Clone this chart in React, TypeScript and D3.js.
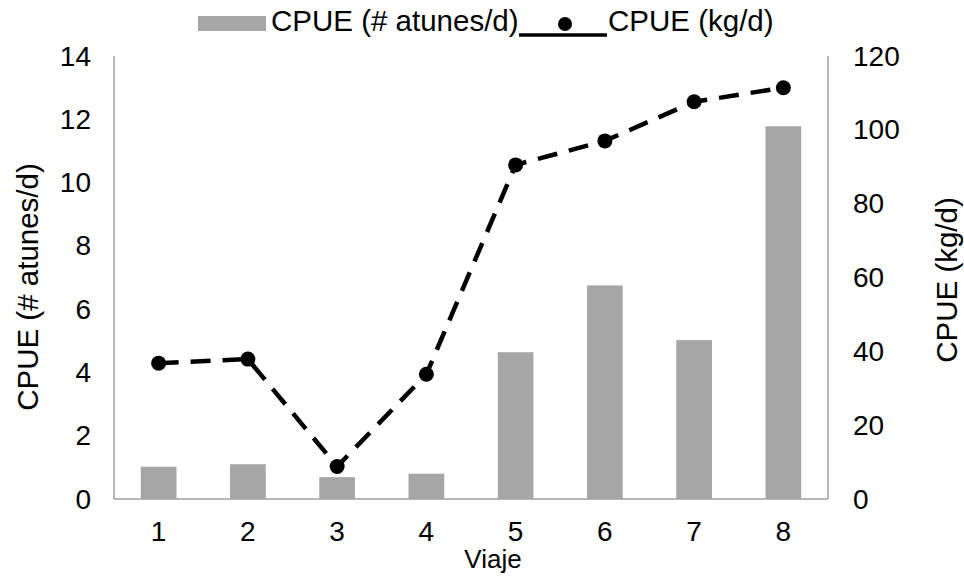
import React from "react";
import * as d3 from "d3";

// Trips and catch-per-unit-effort values
const trips = ["1", "2", "3", "4", "5", "6", "7", "8"];
const cpueTunas = [1.02, 1.1, 0.69, 0.8, 4.64, 6.75, 5.02, 11.78];
const cpueKg = [36.8, 37.9, 8.8, 33.8, 90.5, 97.0, 107.6, 111.4];
const leftTicks = [0, 2, 4, 6, 8, 10, 12, 14];
const rightTicks = [0, 20, 40, 60, 80, 100, 120];

const W = 964;
const H = 577;
const plot = { left: 114, right: 828, top: 56, bottom: 499 };
const FONT = "'Liberation Sans', Arial, sans-serif";
const BAR = "#a6a6a6";
const AXIS = "#a0a0a0";

export default function App() {
  const x = d3
    .scaleBand<string>()
    .domain(trips)
    .range([plot.left, plot.right])
    .paddingInner(0.6)
    .paddingOuter(0.3);
  const yL = d3.scaleLinear().domain([0, 14]).range([plot.bottom, plot.top]);
  const yR = d3.scaleLinear().domain([0, 120]).range([plot.bottom, plot.top]);

  const pts: [number, number][] = cpueKg.map((v, i) => [
    (x(trips[i]) as number) + x.bandwidth() / 2,
    yR(v),
  ]);
  const line = d3.line()(pts) || "";

  return (
    <svg
      width={W}
      height={H}
      style={{ position: "absolute", left: 0, top: 0, background: "#fff" }}
      fontFamily={FONT}
    >
      <rect width={W} height={H} fill="#fff" />

      {/* bars: tunas per day */}
      {cpueTunas.map((v, i) => (
        <rect
          key={trips[i]}
          x={x(trips[i])}
          y={yL(v)}
          width={x.bandwidth()}
          height={yL(0) - yL(v)}
          fill={BAR}
        />
      ))}

      {/* axes lines */}
      <line x1={plot.left} x2={plot.left} y1={plot.top} y2={plot.bottom} stroke={AXIS} strokeWidth={1.5} />
      <line x1={plot.right} x2={plot.right} y1={plot.top} y2={plot.bottom} stroke={AXIS} strokeWidth={1.5} />
      <line x1={plot.left} x2={plot.right} y1={plot.bottom} y2={plot.bottom} stroke={AXIS} strokeWidth={1.5} />

      {/* kg per day line */}
      <path d={line} fill="none" stroke="#000" strokeWidth={4.5} strokeDasharray="20 12" />
      {pts.map(([px, py], i) => (
        <circle key={i} cx={px} cy={py} r={7.5} fill="#000" />
      ))}

      {/* left ticks */}
      {leftTicks.map((t) => (
        <text key={t} x={91} y={yL(t)} textAnchor="end" dominantBaseline="central" fontSize={28} fill="#000">
          {t}
        </text>
      ))}
      {/* right ticks */}
      {rightTicks.map((t) => (
        <text key={t} x={853} y={yR(t)} textAnchor="start" dominantBaseline="central" fontSize={28} fill="#000">
          {t}
        </text>
      ))}
      {/* category ticks */}
      {trips.map((c) => (
        <text key={c} x={(x(c) as number) + x.bandwidth() / 2} y={541} textAnchor="middle" fontSize={28} fill="#000">
          {c}
        </text>
      ))}

      {/* axis titles */}
      <text x={493} y={568} textAnchor="middle" fontSize={26} fill="#000">
        Viaje
      </text>
      <text transform="translate(38,287) rotate(-90)" textAnchor="middle" fontSize={29.5} fill="#000">
        CPUE (# atunes/d)
      </text>
      <text transform="translate(957,280) rotate(-90)" textAnchor="middle" fontSize={29.5} fill="#000">
        CPUE (kg/d)
      </text>

      {/* legend */}
      <rect x={198} y={16} width={68} height={15} fill={BAR} />
      <text x={271} y={31} fontSize={29.5} fill="#000">
        CPUE (# atunes/d)
      </text>
      <line x1={519} x2={607} y1={35} y2={35} stroke="#000" strokeWidth={3.5} />
      <circle cx={565} cy={24} r={7} fill="#000" />
      <text x={608} y={31} fontSize={29.5} fill="#000">
        CPUE (kg/d)
      </text>
    </svg>
  );
}
